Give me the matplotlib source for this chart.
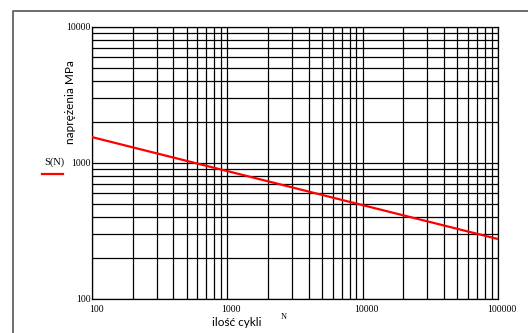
import numpy as np
import matplotlib
matplotlib.use('Agg')
import matplotlib.pyplot as plt
from matplotlib.lines import Line2D
from matplotlib.transforms import ScaledTranslation

# S-N curve
N = [100, 1000, 10000, 100000]
S = [1550, 872, 490, 276]

x_ticks = [100, 1000, 10000, 100000]
x_tick_labels = ['100', '1000', '10000', '100000']
y_ticks = [100, 1000, 10000]
y_tick_labels = ['100', '1000', '10000']

serif = 'Liberation Serif'
sans = 'Lato'

fig = plt.figure(figsize=(5.28, 3.33), dpi=100)
ax = fig.add_axes([92/528, 1 - 299/333, (498 - 92)/528, (299 - 27)/333])

ax.plot(N, S, color='red', lw=1.6, solid_capstyle='butt', zorder=3)

ax.set_xscale('log')
ax.set_yscale('log')
ax.set_xlim(100, 100000)
ax.set_ylim(100, 10000)

ax.grid(True, which='both', color='black', lw=0.9)
ax.set_axisbelow(True)
ax.tick_params(which='both', length=0)
ax.set_xticks(x_ticks)
ax.set_xticklabels(x_tick_labels, fontfamily=serif, fontsize=7)
ax.set_yticks(y_ticks)
ax.set_yticklabels(y_tick_labels, fontfamily=serif, fontsize=7)
ax.tick_params(axis='x', pad=4)
ax.tick_params(axis='y', pad=1)
# x labels sit a little right of their grid lines
off = ScaledTranslation(4/100, 0, fig.dpi_scale_trans)
for lab in ax.get_xticklabels():
    lab.set_transform(lab.get_transform() + off)
for sp in ax.spines.values():
    sp.set_color('black')
    sp.set_linewidth(0.9)

# axis titles
fig.text(70/528, 1 - 102/333, 'naprężenia MPa', rotation=90, ha='center',
         va='center', fontfamily=sans, fontsize=8.5)
fig.text(237/528, 1 - 323/333, 'ilość cykli', ha='center', va='center',
         fontfamily=sans, fontsize=8.5)
fig.text(284/528, 1 - 317/333, 'N', ha='center', va='center',
         fontfamily=serif, fontsize=6)

# legend-like label
fig.text(54/528, 1 - 162/333, 'S(N)', ha='center', va='center',
         fontfamily=serif, fontsize=7.5)
fig.add_artist(Line2D([42/528, 63/528], [1 - 174/333, 1 - 174/333],
                      color='red', lw=1.6, transform=fig.transFigure))

# outer frame (left and top edges)
fig.add_artist(Line2D([12.5/528, 12.5/528, 1.0], [0, 1 - 10.5/333, 1 - 10.5/333],
                      color='#555555', lw=1.2, transform=fig.transFigure))

fig.savefig('out.png', dpi=100)
